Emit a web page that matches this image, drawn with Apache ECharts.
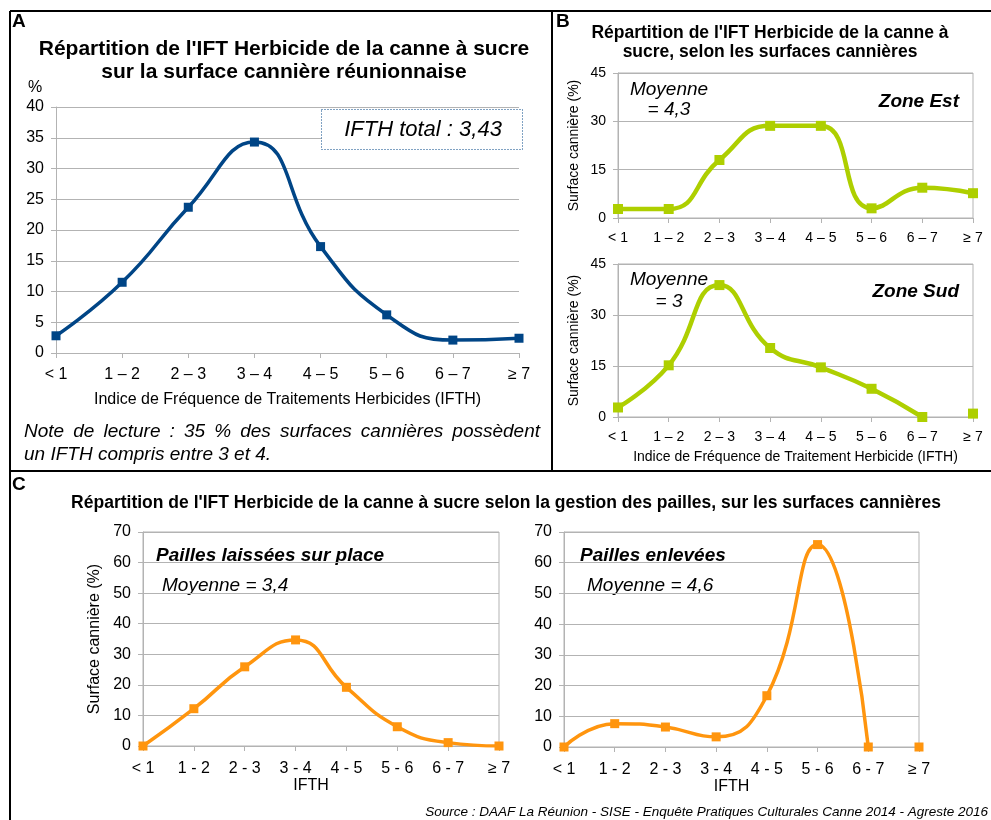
<!DOCTYPE html>
<html>
<head>
<meta charset="utf-8">
<title>IFT Herbicide canne à sucre</title>
<script src="https://cdn.jsdelivr.net/npm/echarts@6/dist/echarts.min.js"></script>
<style>
  html, body { margin: 0; padding: 0; background: #fff; }
  #chart { width: 991px; height: 820px; }
</style>
</head>
<body>
<div id="chart"></div>
<script>
// classes d'IFTH
const classesAB = ['< 1', '1 – 2', '2 – 3', '3 – 4', '4 – 5', '5 – 6', '6 – 7', '≥ 7'];
const classesC = ['< 1', '1 - 2', '2 - 3', '3 - 4', '4 - 5', '5 - 6', '6 - 7', '≥ 7'];

// part de la surface cannière (%)
const reunion = [2.8, 11.5, 23.7, 34.3, 17.3, 6.2, 2.1, 2.4];
const zoneEst = [2.8, 2.8, 18.0, 28.6, 28.6, 3.0, 9.4, 7.7];
const zoneSud = [2.8, 15.2, 38.8, 20.3, 14.6, 8.3, 0, 1.0];
const paillesLaissees = [0, 12.2, 25.9, 34.7, 19.2, 6.3, 1.1, 0];
const paillesEnlevees = [0, 7.6, 6.5, 3.3, 16.7, 65.9, 0, 0];

// échelles des axes
const yMaxA = 40, yStepA = 5;
const yMaxB = 45, yStepB = 15;
const yMaxC = 70, yStepC = 10;

const FONT = '"Liberation Sans", Arial, sans-serif';
const BLUE = '#004586', GREEN = '#aecf00', ORANGE = '#ff950e';
const AXIS_GREY = '#b3b3b3';

function grid(left, top, width, height, border) {
  return {
    left, top, width, height, outerBoundsMode: 'none',
    show: !!border, borderColor: AXIS_GREY, borderWidth: 1
  };
}

function xAxis(i, cats, fontSize, margin, name, nameSize, nameGap, namePad) {
  return {
    type: 'category', gridIndex: i, data: cats, boundaryGap: false,
    axisLine: { lineStyle: { color: AXIS_GREY } },
    axisTick: { show: true, length: 5, interval: 0, lineStyle: { color: AXIS_GREY } },
    axisLabel: { color: '#000', fontSize, margin, interval: 0, fontFamily: FONT },
    splitLine: { show: false },
    name: name || '', nameLocation: 'middle', nameGap: nameGap || 0,
    nameTextStyle: { color: '#000', fontSize: nameSize, fontFamily: FONT, padding: namePad || 0 }
  };
}

function yAxis(i, max, step, fontSize, name, nameSize, nameGap) {
  return {
    type: 'value', gridIndex: i, min: 0, max, interval: step,
    axisLine: { show: true, lineStyle: { color: AXIS_GREY } },
    axisTick: { show: true, length: 5, lineStyle: { color: AXIS_GREY } },
    axisLabel: { color: '#000', fontSize, margin: 12, fontFamily: FONT },
    splitLine: { lineStyle: { color: AXIS_GREY } },
    name: name || '', nameLocation: 'middle', nameGap: nameGap || 0,
    nameTextStyle: { color: '#000', fontSize: nameSize, fontFamily: FONT }
  };
}

function courbe(i, data, color, width, size) {
  return {
    type: 'line', xAxisIndex: i, yAxisIndex: i, data, smooth: true,
    symbol: 'rect', symbolSize: size, showAllSymbol: true,
    lineStyle: { color, width }, itemStyle: { color, opacity: 1 },
    emphasis: { disabled: true }
  };
}

// dernier point isolé (courbe coupée au niveau de l'axe dans l'original)
function sansDernier(arr) { return arr.map((v, k) => k === arr.length - 1 ? null : v); }
function dernierSeul(arr) { return arr.map((v, k) => k === arr.length - 1 ? v : '-'); }

function point(i, data, color, size) {
  return {
    type: 'scatter', xAxisIndex: i, yAxisIndex: i, data,
    symbol: 'rect', symbolSize: size, itemStyle: { color, opacity: 1 },
    emphasis: { disabled: true }
  };
}

function txt(text, x, y, font, align) {
  return {
    type: 'text', x, y,
    style: { text, font, fill: '#000', textAlign: align || 'left', textVerticalAlign: 'middle' }
  };
}

function ligne(x1, y1, x2, y2) {
  return { type: 'line', shape: { x1, y1, x2, y2 }, style: { stroke: '#000', lineWidth: 2 } };
}

// texte justifié (note de lecture)
function justifie(text, x0, x1, y, font) {
  const ctx = document.createElement('canvas').getContext('2d');
  ctx.font = font;
  const mots = text.split(' ');
  const largeurs = mots.map(m => ctx.measureText(m).width);
  const total = largeurs.reduce((s, w) => s + w, 0);
  const gap = (x1 - x0 - total) / (mots.length - 1);
  let x = x0;
  return mots.map((m, k) => {
    const el = txt(m, x, y, font);
    x += largeurs[k] + gap;
    return el;
  });
}

const bold = s => 'bold ' + s + 'px ' + FONT;
const ital = s => 'italic ' + s + 'px ' + FONT;
const boldItal = s => 'italic bold ' + s + 'px ' + FONT;
const norm = s => s + 'px ' + FONT;

const option = {
  animation: false,
  backgroundColor: '#fff',
  grid: [
    grid(56, 107, 463, 246, false),
    grid(618, 73, 355, 145, true),
    grid(618, 264, 355, 153, true),
    grid(143, 532, 356, 214, true),
    grid(564, 532, 355, 215, true)
  ],
  xAxis: [
    xAxis(0, classesAB, 16, 14, 'Indice de Fréquence de Traitements Herbicides (IFTH)', 16, 39),
    xAxis(1, classesAB, 14, 13),
    xAxis(2, classesAB, 14, 13, 'Indice de Fréquence de Traitement Herbicide (IFTH)', 14, 33),
    xAxis(3, classesC, 16, 15, 'IFTH', 16, 32, [0, 20, 0, 0]),
    xAxis(4, classesC, 16, 15, 'IFTH', 16, 32, [0, 20, 0, 0])
  ],
  yAxis: [
    yAxis(0, yMaxA, yStepA, 16),
    yAxis(1, yMaxB, yStepB, 14, 'Surface cannière (%)', 14, 37),
    yAxis(2, yMaxB, yStepB, 14, 'Surface cannière (%)', 14, 37),
    yAxis(3, yMaxC, yStepC, 16, 'Surface cannière (%)', 16, 40),
    yAxis(4, yMaxC, yStepC, 16)
  ],
  series: [
    courbe(0, reunion, BLUE, 3.5, 9),
    courbe(1, zoneEst, GREEN, 4.5, 10),
    courbe(2, sansDernier(zoneSud), GREEN, 4.5, 10),
    point(2, dernierSeul(zoneSud), GREEN, 10),
    courbe(3, paillesLaissees, ORANGE, 3.5, 9),
    courbe(4, sansDernier(paillesEnlevees), ORANGE, 3.5, 9),
    point(4, dernierSeul(paillesEnlevees), ORANGE, 9)
  ],
  graphic: [
    // cadres
    ligne(10, 11, 991, 11),
    ligne(10, 11, 10, 820),
    ligne(552, 11, 552, 471),
    ligne(10, 471, 991, 471),

    // A
    txt('A', 12, 22, bold(19)),
    txt('Répartition de l\'IFT Herbicide de la canne à sucre', 284, 49, bold(21), 'center'),
    txt('sur la surface cannière réunionnaise', 284, 72, bold(21), 'center'),
    txt('%', 35, 88, norm(16), 'center'),
    {
      type: 'rect', shape: { x: 321.5, y: 109.5, width: 201, height: 40 },
      style: { fill: '#fff', stroke: BLUE, lineWidth: 1, lineDash: [1, 2] }, z: 10
    },
    Object.assign(txt('IFTH total : 3,43', 423, 130, ital(22), 'center'), { z: 11 }),
    ...justifie('Note de lecture : 35 % des surfaces cannières possèdent', 24, 540, 432, ital(19)),
    txt('un IFTH compris entre 3 et 4.', 24, 455, ital(19)),

    // B
    txt('B', 556, 22, bold(19)),
    txt('Répartition de l\'IFT Herbicide de la canne à', 770, 33, bold(17.5), 'center'),
    txt('sucre, selon les surfaces cannières', 770, 52, bold(17.5), 'center'),
    txt('Moyenne', 669, 90, ital(19), 'center'),
    txt('= 4,3', 669, 110, ital(19), 'center'),
    txt('Zone Est', 959, 102, boldItal(19), 'right'),
    txt('Moyenne', 669, 280, ital(19), 'center'),
    txt('= 3', 669, 302, ital(19), 'center'),
    txt('Zone Sud', 959, 292, boldItal(19), 'right'),

    // C
    txt('C', 12, 485, bold(19)),
    txt('Répartition de l\'IFT Herbicide de la canne à sucre selon la gestion des pailles, sur les surfaces cannières', 506, 503, bold(17.5), 'center'),
    txt('Pailles laissées sur place', 156, 556, boldItal(19)),
    txt('Moyenne = 3,4', 162, 586, ital(19)),
    txt('Pailles enlevées', 580, 556, boldItal(19)),
    txt('Moyenne = 4,6', 587, 586, ital(19)),
    txt('Source : DAAF La Réunion - SISE - Enquête Pratiques Culturales Canne 2014 - Agreste 2016', 988, 812, ital(13.5), 'right')
  ]
};

const chart = echarts.init(document.getElementById('chart'));
chart.setOption(option);
</script>
</body>
</html>
